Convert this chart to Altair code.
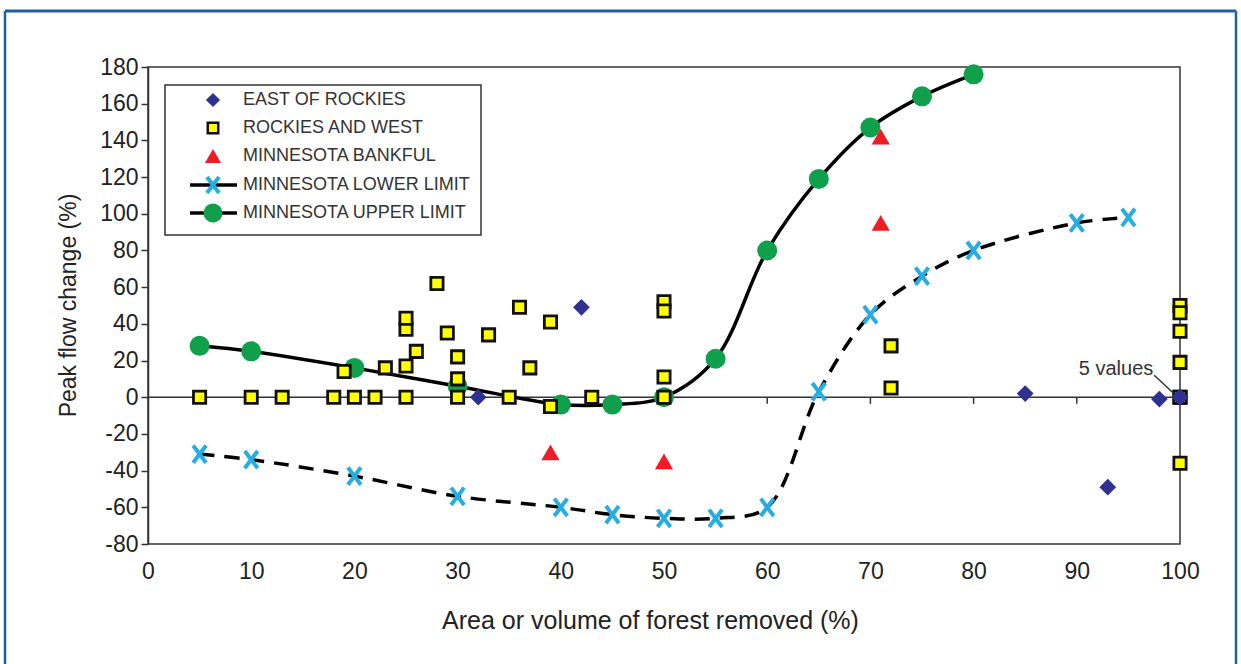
import altair as alt
import pandas as pd

# ---------------- data ----------------
upper_x = [5, 10, 20, 30, 40, 45, 50, 55, 60, 65, 70, 75, 80]
upper_y = [28, 25, 16, 6, -4, -4, 0, 21, 80, 119, 147, 164, 176]

lower_x = [5, 10, 20, 30, 40, 45, 50, 55, 60, 65, 70, 75, 80, 90, 95]
lower_y = [-31, -34, -43, -54, -60, -64, -66, -66, -60, 3, 45, 66, 80, 95, 98]

bank_x = [39, 50, 71, 71]
bank_y = [-30, -35, 142, 95]

east_x = [32, 42, 85, 93, 98, 100, 100]
east_y = [0, 49, 2, -49, -1, 0, 0]

rock_x = [5, 10, 13, 18, 20, 22, 25, 30, 35, 43, 50,
          19, 23, 25, 25, 25, 26, 28, 29, 30, 30, 33, 36, 37, 39, 39,
          50, 50, 50, 72, 72, 100, 100, 100, 100, 100, 100, 100]
rock_y = [0, 0, 0, 0, 0, 0, 0, 0, 0, 0, 0,
          14, 16, 17, 37, 43, 25, 62, 35, 22, 10, 34, 49, 16, 41, -5,
          52, 47, 11, 28, 5, 50, 46, 36, 19, 0, 0, -36]

x_ticks = [0, 10, 20, 30, 40, 50, 60, 70, 80, 90, 100]
zero_ticks = [10, 20, 30, 40, 50, 60, 70, 80, 90]
y_ticks = [-80, -60, -40, -20, 0, 20, 40, 60, 80, 100, 120, 140, 160, 180]

legend_labels = ["EAST OF ROCKIES", "ROCKIES AND WEST", "MINNESOTA BANKFUL",
                 "MINNESOTA LOWER LIMIT", "MINNESOTA UPPER LIMIT"]
note_text = "5 values"

# ---------------- styling ----------------
FONT = "Liberation Sans"
W, H = 1032, 477
GREEN = "#10a04c"
CYAN = "#26ade4"
RED = "#ee1c25"
NAVY = "#2e3192"
YELLOW = "#ffff00"
FRAME = "#1f5fa8"
XSHAPE = "M-0.75,-1L0.75,1M-0.75,1L0.75,-1"

xs = alt.Scale(domain=[0, 100], nice=False, zero=False)
ys = alt.Scale(domain=[-80, 180], nice=False, zero=False)

x_axis = alt.Axis(values=x_ticks, ticks=False, domain=False, grid=False,
                  labelFontSize=23, labelPadding=16, labelColor="#222", labelFont=FONT,
                  labelFlush=False, labelOverlap=False, labelExpr="'' + datum.value",
                  title="Area or volume of forest removed (%)", titleFontSize=25,
                  titleFontWeight="normal", titleFont=FONT, titleColor="#222",
                  titleX=502, titleY=76, titleBaseline="middle")
y_axis = alt.Axis(values=y_ticks, tickSize=7, tickColor="#333", tickWidth=1.5,
                  domain=True, domainColor="#333", domainWidth=1.5, grid=False,
                  labelFontSize=23, labelPadding=3, labelColor="#222", labelFont=FONT,
                  labelFlush=False, labelOverlap=False, labelExpr="'' + datum.value",
                  title="Peak flow change (%)", titleFontSize=23, titleFontWeight="normal",
                  titleFont=FONT, titleColor="#222", titleX=-80, titleY=238,
                  titleBaseline="middle", titleAngle=270)


def X(f):
    return alt.X(f, type="quantitative", scale=xs, axis=x_axis)


def Y(f):
    return alt.Y(f, type="quantitative", scale=ys, axis=y_axis)


def DX(v):
    return alt.datum(v, type="quantitative", scale=xs, axis=x_axis)


def DY(v):
    return alt.datum(v, type="quantitative", scale=ys, axis=y_axis)


up = pd.DataFrame({"x": upper_x, "y": upper_y})
lo = pd.DataFrame({"x": lower_x, "y": lower_y})
bk = pd.DataFrame({"x": bank_x, "y": bank_y})
ea = pd.DataFrame({"x": east_x, "y": east_y})
ro = pd.DataFrame({"x": rock_x, "y": rock_y})
zt = pd.DataFrame({"x": zero_ticks})
dummy = pd.DataFrame({"a": [0]})

layers = []

# zero line and its ticks
layers.append(alt.Chart(dummy).mark_rule(color="#333", strokeWidth=1.5).encode(
    x=DX(0), x2=alt.datum(100), y=DY(0)))
layers.append(alt.Chart(zt).mark_rule(color="#333", strokeWidth=1.5).encode(
    x=X("x"), y=DY(0), y2=alt.datum(-3.6)))

# Minnesota limit lines
layers.append(alt.Chart(lo).mark_line(interpolate="catmull-rom", color="black",
                                      strokeWidth=3.5, strokeDash=[15, 10]).encode(x=X("x"), y=Y("y")))
layers.append(alt.Chart(up).mark_line(interpolate="catmull-rom", color="black",
                                      strokeWidth=3.5).encode(x=X("x"), y=Y("y")))
layers.append(alt.Chart(up).mark_point(shape="circle", filled=True, fill=GREEN, opacity=1,
                                       size=400, strokeWidth=0).encode(x=X("x"), y=Y("y")))
layers.append(alt.Chart(lo).mark_point(shape=XSHAPE, filled=False, stroke=CYAN, opacity=1,
                                       size=300, strokeWidth=4).encode(x=X("x"), y=Y("y")))
layers.append(alt.Chart(bk).mark_point(shape="triangle-up", filled=True, fill=RED, opacity=1,
                                       size=330, strokeWidth=0).encode(x=X("x"), y=Y("y")))
layers.append(alt.Chart(ro).mark_point(shape="square", filled=True, fill=YELLOW, stroke="#111",
                                       opacity=1, size=150, strokeWidth=2.8).encode(x=X("x"), y=Y("y")))
layers.append(alt.Chart(ea).mark_point(shape="diamond", filled=True, fill=NAVY, opacity=1,
                                       size=280, strokeWidth=0).encode(x=X("x"), y=Y("y")))

# "5 values" note with leader line
layers.append(alt.Chart(dummy).mark_text(text=note_text, font=FONT, fontSize=20, color="#333",
                                         align="center", baseline="middle").encode(
    x=DX(93.8), y=DY(15.5)))
layers.append(alt.Chart(dummy).mark_rule(color="#333", strokeWidth=1.5).encode(
    x=DX(97.5), y=DY(12), x2=alt.datum(99.4), y2=alt.datum(2)))

# legend box
layers.append(alt.Chart(dummy).mark_rect(fill="white", stroke="#333", strokeWidth=1.5).encode(
    x=alt.value(17), x2=alt.value(333), y=alt.value(18), y2=alt.value(168)))
LY = [33, 61, 89, 118, 146]
SX, TX = 65, 95
layers.append(alt.Chart(dummy).mark_point(shape="diamond", filled=True, fill=NAVY, opacity=1,
                                          size=200, strokeWidth=0).encode(x=alt.value(SX), y=alt.value(LY[0])))
layers.append(alt.Chart(dummy).mark_point(shape="square", filled=True, fill=YELLOW, stroke="#111",
                                          opacity=1, size=110, strokeWidth=2.5).encode(x=alt.value(SX), y=alt.value(LY[1])))
layers.append(alt.Chart(dummy).mark_point(shape="triangle-up", filled=True, fill=RED, opacity=1,
                                          size=260, strokeWidth=0).encode(x=alt.value(SX), y=alt.value(LY[2])))
for yy in (LY[3], LY[4]):
    layers.append(alt.Chart(dummy).mark_rule(color="black", strokeWidth=3.5).encode(
        x=alt.value(42), x2=alt.value(89), y=alt.value(yy)))
layers.append(alt.Chart(dummy).mark_point(shape=XSHAPE, filled=False, stroke=CYAN, opacity=1,
                                          size=260, strokeWidth=4).encode(x=alt.value(SX), y=alt.value(LY[3])))
layers.append(alt.Chart(dummy).mark_point(shape="circle", filled=True, fill=GREEN, opacity=1,
                                          size=360, strokeWidth=0).encode(x=alt.value(SX), y=alt.value(LY[4])))
for i, lab in enumerate(legend_labels):
    layers.append(alt.Chart(dummy).mark_text(text=lab, font=FONT, fontSize=18, color="#333",
                                             align="left", baseline="middle").encode(
        x=alt.value(TX), y=alt.value(LY[i])))

# blue frame around the figure
layers.append(alt.Chart(dummy).mark_rule(color=FRAME, strokeWidth=3).encode(
    x=alt.value(-143), x2=alt.value(1088), y=alt.value(-56)))
layers.append(alt.Chart(dummy).mark_rule(color=FRAME, strokeWidth=2.5).encode(
    x=alt.value(-143), y=alt.value(-56), y2=alt.value(600)))
layers.append(alt.Chart(dummy).mark_rule(color=FRAME, strokeWidth=2.5).encode(
    x=alt.value(1088), y=alt.value(-56), y2=alt.value(600)))

chart = alt.layer(*layers).properties(
    width=W, height=H,
    autosize=alt.AutoSizeParams(type="none"),
    padding={"left": 148, "top": 67, "right": 61, "bottom": 120},
    background="white",
).configure_view(stroke="#333", strokeWidth=1.5)

chart.save("out.html", embed_options={"renderer": "svg", "actions": False})
